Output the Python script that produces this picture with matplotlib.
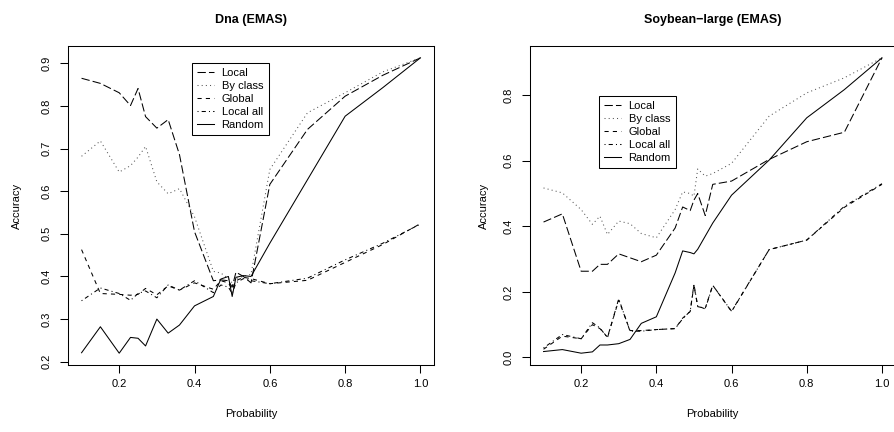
import matplotlib
matplotlib.use("Agg")
import matplotlib.pyplot as plt

plt.rcParams['font.family'] = ['Liberation Sans', 'DejaVu Sans']

probability = [0.1, 0.15, 0.2, 0.23, 0.25, 0.27, 0.3, 0.33, 0.36, 0.4, 0.45, 0.47,
               0.49, 0.5, 0.51, 0.53, 0.55, 0.6, 0.7, 0.8, 0.9, 1.0]

# Dna (EMAS)
dna_local = [0.865, 0.853, 0.831, 0.801, 0.841, 0.775, 0.748, 0.768, 0.686, 0.505, 0.39, 0.392,
             0.39, 0.375, 0.41, 0.40, 0.385, 0.616, 0.745, 0.823, 0.872, 0.913]
dna_byclass = [0.682, 0.718, 0.645, 0.660, 0.680, 0.705, 0.622, 0.594, 0.606, 0.54, 0.412, 0.408,
               0.395, 0.385, 0.395, 0.40, 0.405, 0.651, 0.784, 0.831, 0.880, 0.913]
dna_global = [0.463, 0.36, 0.358, 0.356, 0.358, 0.372, 0.357, 0.378, 0.368, 0.385, 0.37, 0.39,
              0.385, 0.37, 0.39, 0.398, 0.395, 0.383, 0.391, 0.433, 0.475, 0.524]
dna_localall = [0.343, 0.373, 0.36, 0.344, 0.36, 0.366, 0.35, 0.38, 0.368, 0.39, 0.362, 0.38,
                0.375, 0.36, 0.385, 0.395, 0.39, 0.383, 0.396, 0.439, 0.478, 0.523]
dna_random = [0.221, 0.282, 0.220, 0.257, 0.255, 0.237, 0.300, 0.267, 0.286, 0.331, 0.353, 0.394,
              0.40, 0.353, 0.398, 0.402, 0.40, 0.478, 0.627, 0.776, 0.843, 0.913]

# Soybean-large (EMAS)
soy_local = [0.413, 0.438, 0.263, 0.263, 0.284, 0.284, 0.316, 0.304, 0.292, 0.312, 0.395, 0.459,
             0.448, 0.48, 0.50, 0.433, 0.528, 0.538, 0.604, 0.658, 0.687, 0.914]
soy_byclass = [0.517, 0.502, 0.451, 0.406, 0.431, 0.375, 0.416, 0.408, 0.378, 0.365, 0.451, 0.505,
               0.50, 0.492, 0.575, 0.553, 0.561, 0.592, 0.736, 0.807, 0.853, 0.914]
soy_global = [0.025, 0.065, 0.057, 0.10, 0.088, 0.062, 0.175, 0.082, 0.082, 0.085, 0.088, 0.12,
              0.14, 0.22, 0.155, 0.15, 0.22, 0.14, 0.329, 0.358, 0.458, 0.528]
soy_localall = [0.029, 0.070, 0.057, 0.106, 0.090, 0.060, 0.179, 0.080, 0.080, 0.085, 0.088, 0.118,
                0.141, 0.223, 0.157, 0.148, 0.220, 0.141, 0.329, 0.358, 0.461, 0.530]
soy_random = [0.018, 0.024, 0.013, 0.017, 0.038, 0.038, 0.042, 0.055, 0.104, 0.124, 0.258, 0.325,
              0.32, 0.316, 0.33, 0.37, 0.41, 0.495, 0.602, 0.731, 0.817, 0.914]

series_names = ["Local", "By class", "Global", "Local all", "Random"]
titles = ["Dna (EMAS)", "Soybean\u2212large (EMAS)"]
x_ticks = [0.2, 0.4, 0.6, 0.8, 1.0]
dna_yticks = [0.2, 0.3, 0.4, 0.5, 0.6, 0.7, 0.8, 0.9]
soy_yticks = [0.0, 0.2, 0.4, 0.6, 0.8]

styles = [
    dict(color="black", linestyle=(0, (8, 3))),
    dict(color="#555555", linestyle=(0, (1, 3))),
    dict(color="black", linestyle=(0, (4, 4))),
    dict(color="black", linestyle=(0, (1, 3, 4, 3))),
    dict(color="black", linestyle="-"),
]

W, H = 894, 432
fig = plt.figure(figsize=(W / 100, H / 100), dpi=100)

def px_rect(x0, x1, y0, y1):
    return [x0 / W, 1 - y1 / H, (x1 - x0) / W, (y1 - y0) / H]

axL = fig.add_axes(px_rect(68, 434, 46, 365))
axR = fig.add_axes(px_rect(530, 895.5, 46, 365))

panels = [
    (axL, [dna_local, dna_byclass, dna_global, dna_localall, dna_random], dna_yticks,
     (0.339, 0.947), 68, 434),
    (axR, [soy_local, soy_byclass, soy_global, soy_localall, soy_random], soy_yticks,
     (0.189, 0.844), 530, 895.5),
]

for i, (ax, data, yt, leg_anchor, x0, x1) in enumerate(panels):
    for name, vals, st in zip(series_names, data, styles):
        ax.plot(probability, vals, lw=0.75, label=name, **st)
    allv = [v for s in data for v in s]
    lo, hi = min(allv), max(allv)
    r = hi - lo
    ax.set_ylim(lo - 0.04 * r, hi + 0.04 * r)
    ax.set_xlim(0.1 - 0.036, 1.0 + 0.036)
    ax.set_xticks(x_ticks)
    ax.set_xticklabels([f"{t:.1f}" for t in x_ticks])
    ax.set_yticks(yt)
    ax.set_yticklabels([f"{t:.1f}" for t in yt], rotation=90, va="center")
    ax.tick_params(axis="both", direction="out", length=6, width=0.75, labelsize=8,
                   color="black")
    ax.tick_params(axis="x", pad=4)
    ax.tick_params(axis="y", pad=6)
    for sp in ax.spines.values():
        sp.set_linewidth(0.75)
    leg = ax.legend(loc="upper left", bbox_to_anchor=leg_anchor, fontsize=8,
                    frameon=True, fancybox=False, edgecolor="black", framealpha=1,
                    handlelength=1.5, handletextpad=0.7, labelspacing=0.28,
                    borderpad=0.45, borderaxespad=0)
    leg.get_frame().set_linewidth(0.75)
    cx = (x0 + x1) / 2
    fig.text(cx / W, 1 - 20 / H, titles[i], ha="center", va="center",
             fontsize=9, fontweight="bold")
    fig.text(cx / W, 1 - 414 / H, "Probability", ha="center", va="center", fontsize=8)

fig.text(17 / W, 1 - 205.5 / H, "Accuracy", rotation=90, ha="center", va="center", fontsize=8)
fig.text(484 / W, 1 - 205.5 / H, "Accuracy", rotation=90, ha="center", va="center", fontsize=8)

fig.savefig("out.png", dpi=100)
